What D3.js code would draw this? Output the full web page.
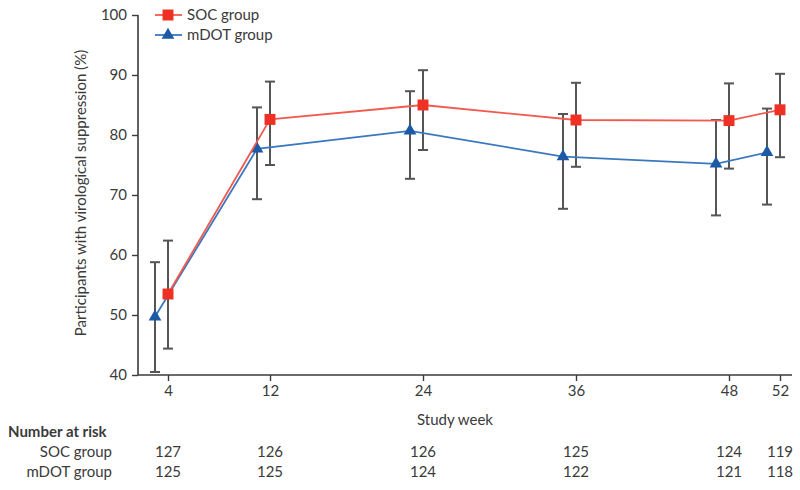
<!DOCTYPE html>
<html><head><meta charset="utf-8">
<script src="https://cdn.jsdelivr.net/npm/d3@7"></script>
<style>
body{margin:0;background:#fff;}
text{font-family:Lato,"Open Sans",sans-serif;fill:#3a3a3a;}
</style></head>
<body><svg id="c" width="800" height="490"></svg>
<script>
const weeks = [4, 12, 24, 36, 48, 52];
const yTicks = [40, 50, 60, 70, 80, 90, 100];
const socValues = [53.5, 82.6, 85.0, 82.5, 82.4, 84.2];
const socLower = [44.4, 75.0, 77.5, 74.7, 74.4, 76.3];
const socUpper = [62.4, 88.9, 90.8, 88.7, 88.6, 90.2];
const mdotValues = [49.7, 77.7, 80.7, 76.4, 75.2, 77.1];
const mdotLower = [40.5, 69.3, 72.7, 67.7, 66.6, 68.4];
const mdotUpper = [58.8, 84.6, 87.3, 83.5, 82.5, 84.4];
const socAtRisk = [127, 126, 126, 125, 124, 119];
const mdotAtRisk = [125, 125, 124, 122, 121, 118];
const seriesNames = ["SOC group", "mDOT group"];

const svg = d3.select("#c");
const x = d3.scaleLinear().domain([4 - 30/12.75, 52 + 12/12.75]).range([138, 792]);
const y = d3.scaleLinear().domain([40, 100]).range([375, 15]);
const axisColor = "#3a3a3a";
const fs = 15;

// axes
const gx = svg.append("g").attr("transform", "translate(0,375)")
  .call(d3.axisBottom(x).tickValues(weeks).tickSize(6).tickPadding(4));
const gy = svg.append("g").attr("transform", "translate(138,0)")
  .call(d3.axisLeft(y).tickValues(yTicks).tickSize(6).tickPadding(5));
[gx, gy].forEach(g => {
  g.select(".domain").attr("stroke", axisColor).attr("stroke-width", 1.6);
  g.selectAll(".tick line").attr("stroke", axisColor).attr("stroke-width", 1.4);
  g.selectAll(".tick text").attr("font-size", fs).attr("fill", "#3a3a3a")
    .style("font-family", 'Lato,"Open Sans",sans-serif');
});
gx.select(".domain").attr("d", "M138,0H792");
gy.select(".domain").attr("d", "M0,15V375");

svg.append("text").attr("x", 455).attr("y", 425).attr("text-anchor", "middle")
  .attr("font-size", fs).text("Study week");
svg.append("text").attr("transform", "translate(86,193) rotate(-90)")
  .attr("text-anchor", "middle").attr("font-size", fs)
  .text("Participants with virological suppression (%)");

const mdotOffset = -13;
const red = "#ee3124", redLine = "#f25a50", blue = "#1c5aa6", blueLine = "#3a78c0";

function drawErrors(lo, hi, off) {
  const g = svg.append("g").attr("stroke", "#555").attr("stroke-width", 2);
  const px = i => x(weeks[i]) + off;
  weeks.forEach((w, i) => {
    g.append("line").attr("x1", px(i)).attr("x2", px(i)).attr("y1", y(lo[i])).attr("y2", y(hi[i]));
    g.append("line").attr("x1", px(i) - 5).attr("x2", px(i) + 5).attr("y1", y(lo[i])).attr("y2", y(lo[i]));
    g.append("line").attr("x1", px(i) - 5).attr("x2", px(i) + 5).attr("y1", y(hi[i])).attr("y2", y(hi[i]));
  });
}
function drawLine(vals, off, lineColor, color, shape, size) {
  const g = svg.append("g");
  const line = d3.line().x((d, i) => x(weeks[i]) + off).y(d => y(d));
  g.append("path").attr("d", line(vals)).attr("fill", "none").attr("stroke", lineColor).attr("stroke-width", 1.8);
  const sym = d3.symbol().type(shape).size(size);
  g.selectAll("path.m").data(vals).join("path").attr("class", "m")
    .attr("d", sym).attr("fill", color)
    .attr("transform", (d, i) => `translate(${x(weeks[i]) + off},${y(d)})`);
}
drawErrors(mdotLower, mdotUpper, mdotOffset);
drawErrors(socLower, socUpper, 0);
drawLine(mdotValues, mdotOffset, blueLine, blue, d3.symbolTriangle, 70);
drawLine(socValues, 0, redLine, red, d3.symbolSquare, 120);

// legend
const leg = svg.append("g");
[[redLine, red, d3.symbolSquare, 120], [blueLine, blue, d3.symbolTriangle, 70]].forEach((s, i) => {
  const ly = 15 + i * 20;
  leg.append("line").attr("x1", 155).attr("x2", 182).attr("y1", ly).attr("y2", ly)
    .attr("stroke", s[0]).attr("stroke-width", 1.8);
  leg.append("path").attr("d", d3.symbol().type(s[2]).size(s[3])).attr("fill", s[1])
    .attr("transform", `translate(168,${ly})`);
  leg.append("text").attr("x", 187).attr("y", ly + 5).attr("font-size", fs).text(seriesNames[i]);
});

// number at risk
svg.append("text").attr("x", 8).attr("y", 437).attr("font-size", fs).attr("font-weight", "bold")
  .attr("fill", "#222").text("Number at risk");
[socAtRisk, mdotAtRisk].forEach((arr, r) => {
  const ry = 457 + r * 20;
  svg.append("text").attr("x", 112).attr("y", ry).attr("text-anchor", "end").attr("font-size", fs).text(seriesNames[r]);
  svg.selectAll(null).data(arr).join("text").attr("x", (d, i) => x(weeks[i])).attr("y", ry)
    .attr("text-anchor", "middle").attr("font-size", fs).text(d => d);
});
</script></body></html>
